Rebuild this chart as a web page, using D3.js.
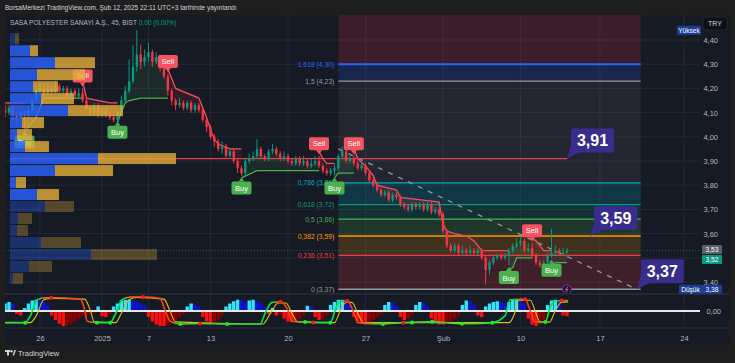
<!DOCTYPE html>
<html><head><meta charset="utf-8">
<script src="https://cdn.jsdelivr.net/npm/d3@7"></script>
<style>
html,body{margin:0;padding:0;background:#1e1e1e;}
svg{display:block;font-family:"Liberation Sans","Noto Sans",sans-serif;}
</style></head><body>
<svg id="c" width="735" height="363"></svg>
<script>
// ---------------- DATA ----------------
const firstOpen = 4.11;
const closes = [4.10,4.12,4.09,4.08,4.10,4.09,4.11,4.15,4.19,4.20,
4.18,4.20,4.19,4.21,4.19,4.20,4.17,4.19,4.17,4.18,
4.15,4.12,4.10,4.13,4.09,4.11,4.09,4.08,4.07,4.10,
4.15,4.19,4.23,4.29,4.34,4.31,4.33,4.35,4.31,4.33,
4.29,4.25,4.19,4.15,4.13,4.14,4.12,4.14,4.11,4.13,
4.11,4.07,4.04,4.00,3.98,3.95,3.96,3.92,3.94,3.90,
3.87,3.85,3.90,3.91,3.92,3.95,3.92,3.91,3.94,3.95,
3.93,3.91,3.92,3.90,3.89,3.91,3.89,3.90,3.88,3.89,
3.90,3.88,3.86,3.85,3.86,3.87,3.92,3.94,3.90,3.91,
3.89,3.87,3.88,3.85,3.82,3.80,3.78,3.76,3.77,3.74,
3.76,3.75,3.72,3.71,3.70,3.72,3.71,3.72,3.70,3.72,
3.69,3.70,3.68,3.61,3.55,3.53,3.55,3.52,3.53,3.52,
3.53,3.52,3.53,3.50,3.45,3.48,3.50,3.51,3.50,3.51,
3.53,3.55,3.56,3.57,3.53,3.54,3.51,3.48,3.47,3.48,
3.51,3.52,3.53,3.52,3.52,3.53];
const highs = [4.13,4.13,4.13,4.10,4.11,4.11,4.13,4.16,4.21,4.22,
4.21,4.22,4.21,4.23,4.22,4.21,4.21,4.20,4.20,4.20,
4.20,4.16,4.13,4.14,4.14,4.12,4.12,4.10,4.09,4.11,
4.17,4.21,4.32,4.38,4.44,4.38,4.36,4.39,4.36,4.35,
4.34,4.30,4.26,4.20,4.16,4.16,4.15,4.15,4.15,4.14,
4.14,4.12,4.08,4.05,4.01,3.99,3.98,3.97,3.95,3.95,
3.91,3.88,3.91,3.93,3.94,3.99,3.96,3.93,3.95,3.97,
3.96,3.94,3.94,3.93,3.91,3.92,3.92,3.92,3.91,3.91,
3.92,3.92,3.89,3.87,3.87,3.89,3.93,3.96,3.95,3.93,
3.92,3.90,3.90,3.89,3.86,3.83,3.81,3.79,3.78,3.78,
3.77,3.77,3.76,3.73,3.72,3.73,3.73,3.73,3.73,3.73,
3.73,3.71,3.71,3.69,3.62,3.56,3.56,3.56,3.55,3.54,
3.55,3.54,3.54,3.54,3.51,3.49,3.51,3.52,3.52,3.52,
3.54,3.56,3.58,3.59,3.58,3.56,3.56,3.52,3.49,3.49,
3.52,3.62,3.55,3.54,3.54,3.54];
const lows = [4.08,4.09,4.07,4.06,4.07,4.03,4.08,4.10,4.14,4.17,
4.16,4.17,4.17,4.18,4.18,4.18,4.16,4.16,4.16,4.16,
4.14,4.11,4.09,4.09,4.08,4.08,4.08,4.07,4.06,4.07,
4.09,4.14,4.18,4.22,4.27,4.28,4.29,4.31,4.29,4.30,
4.27,4.24,4.17,4.13,4.11,4.12,4.11,4.11,4.10,4.10,
4.10,4.06,4.02,3.99,3.96,3.94,3.93,3.91,3.91,3.89,
3.85,3.84,3.84,3.89,3.90,3.91,3.91,3.90,3.90,3.93,
3.92,3.90,3.90,3.89,3.88,3.88,3.88,3.88,3.87,3.87,
3.88,3.87,3.85,3.84,3.84,3.84,3.86,3.91,3.89,3.89,
3.88,3.86,3.86,3.84,3.81,3.79,3.77,3.75,3.75,3.73,
3.73,3.74,3.71,3.70,3.69,3.69,3.70,3.70,3.69,3.69,
3.68,3.68,3.67,3.60,3.54,3.52,3.52,3.51,3.51,3.51,
3.51,3.51,3.51,3.49,3.39,3.43,3.47,3.49,3.49,3.49,
3.47,3.52,3.54,3.55,3.52,3.52,3.50,3.47,3.46,3.46,
3.47,3.50,3.51,3.51,3.51,3.52];

// time axis (bar index where each date starts)
const dateTickBars = [9,25,37,53,73,93,113,133,153.5,175.2];
const dateTickLabels = ["26","2025","7","13","20","27","Şub","10","17","24"];
const priceTicks = [3.40,3.50,3.60,3.70,3.80,3.90,4.00,4.10,4.20,4.30,4.40];

// supertrend segments [bar, price]
const stSegments = [
  {dir:"bear", pts:[[0,4.14],[5,4.14]]},
  {dir:"bull", pts:[[5,4.02],[6,4.04],[8,4.08],[10,4.16],[20,4.16]]},
  {dir:"bear", pts:[[20,4.23],[21,4.16],[27,4.14],[29,4.14]]},
  {dir:"bull", pts:[[29,4.06],[30,4.10],[31,4.14],[32,4.15],[35,4.16],[42,4.16]]},
  {dir:"bear", pts:[[42,4.28],[43,4.24],[44,4.20],[50,4.16],[51,4.12],[52,4.08],[53,4.03],[54,3.99],[55,3.97],[58,3.95],[61,3.95]]},
  {dir:"bull", pts:[[61,3.83],[65,3.86],[81,3.86]]},
  {dir:"bear", pts:[[81,3.94],[82,3.91],[83,3.89],[85,3.89]]},
  {dir:"bull", pts:[[85,3.83],[86,3.85],[90,3.85]]},
  {dir:"bear", pts:[[90,3.95],[91,3.91],[93,3.88],[95,3.84],[96,3.80],[101,3.78],[102,3.75],[112,3.73],[113,3.64],[114,3.61],[116,3.60],[119,3.59],[121,3.57],[123,3.53],[130,3.53]]},
  {dir:"bull", pts:[[130,3.45],[131,3.46],[132,3.50],[136,3.50]]},
  {dir:"bear", pts:[[136,3.58],[137,3.57],[139,3.53],[141,3.53]]},
  {dir:"bull", pts:[[141,3.47],[142,3.48],[145,3.48]]}
];
const signalBars  = [5,20,29,42,61,81,85,90,130,136,141];
const signalTypes = ["Buy","Sell","Buy","Sell","Buy","Sell","Buy","Sell","Buy","Sell","Buy"];

// volume profile (top row -> bottom row)
const vpHigh = 4.43, vpLow = 3.39, vaHigh = 4.38, vaLow = 3.74;
const vpUp   = [5,20,45,27,23,31,58,12,7,15,88,45,6,27,35,8,7,31,81,19,3];
const vpDown = [4,8,40,48,25,33,55,22,15,24,78,58,10,22,29,14,11,40,66,23,10];
const pocPrice = 3.91;

// fibonacci
const fibStartBar = 86, fibEndBar = 164;
const fibLevels = [1.618,1.5,0.786,0.618,0.5,0.382,0.236,0];
const fibPrices = [4.30,4.23,3.81,3.72,3.66,3.59,3.51,3.37];
const trendLine = [[86,3.95],[163,3.37]];

// callouts [bar, price]
const calloutBars = [145,151,163];
const calloutPrices = [3.91,3.59,3.37];

const sessionHigh = 4.44, sessionLow = 3.38, bidPrice = 3.52;

// momentum histogram
const hist = [0.5,0.6,0.45,-0.2,-0.3,0.2,0.5,0.7,0.75,0.7,
0.6,0.4,-0.3,-0.6,-0.85,-1.0,-0.95,-0.85,-0.7,-0.5,
-0.35,-0.25,-0.2,-0.15,0.3,-0.35,-0.4,-0.2,0.3,0.5,
0.7,0.75,0.75,0.7,0.6,0.5,0.35,-0.4,-0.7,-0.9,
-1.0,-1.0,-0.95,-0.8,-0.6,-0.4,-0.2,0.3,0.5,0.45,
0.3,-0.4,-0.7,-0.8,-0.75,-0.6,-0.3,0.3,0.5,0.65,
0.75,0.7,0.6,0.7,0.75,0.65,0.5,0.3,-0.2,0.2,
-0.3,-0.25,-0.5,-0.7,-0.75,-0.65,-0.5,-0.3,0.35,0.3,
-0.4,-0.6,-0.55,-0.3,0.4,0.6,0.75,0.75,0.6,0.4,
-0.4,-0.7,-0.85,-0.9,-0.8,-0.6,-0.4,-0.2,0.4,0.6,
0.55,0.35,-0.4,-0.6,-0.5,-0.3,0.4,0.6,0.55,0.3,
-0.5,-0.8,-0.9,-0.9,-0.85,-0.7,-0.5,-0.3,0.4,0.7,
0.65,0.4,-0.3,-0.4,0.3,0.5,0.6,0.65,0.6,0.55,
0.6,0.75,0.8,0.75,0.5,-0.5,-0.9,-1.0,-0.9,-0.6,
0.4,0.7,0.75,0.6,-0.3,-0.35];
const oscMain = [[0,0.05],[5.2,0.05],[6.5,0.3],[8.3,0.9],[10.3,0.97],[11.9,0.97],[19.4,0.92],[20.4,0.6],[21.2,0.1],[23.7,0.05],
[27.1,0.05],[28.6,0.4],[30.2,0.9],[32.3,1.0],[35.6,1.0],[40,0.95],[41.3,0.5],[42.6,0.1],[45.2,0.0],[50.3,0.02],
[57.3,0.0],[65.8,0.0],[67.1,0.4],[68.9,0.8],[71,0.82],[73,0.5],[74,0.1],[77.4,0.07],[83.9,0.05],[85.4,0.6],
[86.5,0.85],[88.3,0.85],[90.3,0.3],[91,0.05],[97.5,0.0],[102.7,0.05],[110.2,0.08],[117.9,0.01],[122.6,0.02],[125.7,0.05],
[129,0.3],[130.3,0.9],[134.2,0.92],[135.5,0.5],[136.8,0.08],[139.4,0.07],[140.6,0.6],[142,0.85],[145.3,0.87]];
const oscSignal = [[0,0.05],[6.5,0.05],[8,0.3],[10,0.9],[12,0.95],[20.5,0.92],[22,0.5],[23,0.08],[28.5,0.05],[30,0.4],
[32,0.9],[34,0.98],[41,0.92],[42.5,0.5],[44,0.08],[66.5,0.0],[68.5,0.4],[70.5,0.78],[72.5,0.78],[74,0.4],
[75.5,0.08],[85,0.05],[86.5,0.5],[88,0.8],[89.5,0.8],[91,0.4],[92.5,0.05],[130,0.05],[131.5,0.4],[132.5,0.88],
[135.5,0.88],[137,0.4],[138,0.08],[140.5,0.07],[142,0.5],[143.5,0.8],[145.3,0.82]];
const oscDotsRed = [[11.9,0.97],[35.6,1.0],[71,0.82],[88.3,0.85],[134.2,0.92],[143.6,0.87],[50.3,0.02],[79.5,0.06],[102.7,0.05]];
const oscDotsGreen = [[5.2,0.05],[23.7,0.05],[27.1,0.05],[45.2,0.0],[57.3,0.0],[77.4,0.07],[83.9,0.05],[97.5,0.0],[105,0.06],[110.2,0.08],[117.9,0.01],[125.7,0.05],[139.4,0.07]];

// ---------------- RENDER ----------------
const W=735,H=363;
const PL=5, PR=700, PT=15, PB=293;
const IT=295, IB=327;
const fmt = v => d3.format(".2f")(v).replace(".",",");
const svg = d3.select("#c");
svg.append("rect").attr("width",W).attr("height",H).attr("fill","#1e1e1e");
svg.append("rect").attr("x",5).attr("y",15).attr("width",724).attr("height",330).attr("fill","#161a25");

const x = d3.scaleLinear().domain([0,145]).range([5.1,567]);
const y = d3.scaleLinear().domain([3.40,4.40]).range([282,40]);
const yH = d3.scaleLinear().domain([-1,1]).range([326,296]);
const yO = d3.scaleLinear().domain([0,1]).range([324,297]);

const defs = svg.append("defs");
defs.append("clipPath").attr("id","pc").append("rect").attr("x",PL).attr("y",PT).attr("width",PR-PL).attr("height",PB-PT);
defs.append("clipPath").attr("id","ic").append("rect").attr("x",PL).attr("y",IT).attr("width",PR-PL).attr("height",IB-IT);

// grid
const grid = svg.append("g");
grid.selectAll("line.h").data(priceTicks).join("line")
  .attr("x1",PL).attr("x2",PR).attr("y1",d=>y(d)).attr("y2",d=>y(d))
  .attr("stroke","#242836").attr("stroke-width",1);
grid.selectAll("line.v").data(dateTickBars).join("line")
  .attr("x1",d=>x(d)).attr("x2",d=>x(d)).attr("y1",PT).attr("y2",IB)
  .attr("stroke","#242836").attr("stroke-width",1);

const pane = svg.append("g").attr("clip-path","url(#pc)");

// fib zones
const fibLineColors = ["#2962ff","#9598a1","#00acc1","#089981","#4caf50","#ff9800","#f23645","#9598a1"];
const fibFillColors = ["#2962ff","#787b86","#00bcd4","#089981","#4caf50","#ff9800","#f23645"];
const fx0 = x(fibStartBar), fx1 = x(fibEndBar);
pane.append("rect").attr("x",fx0).attr("width",fx1-fx0).attr("y",PT).attr("height",y(fibPrices[0])-PT)
  .attr("fill","#f23645").attr("opacity",0.17);
for(let k=0;k<fibPrices.length-1;k++){
  pane.append("rect").attr("x",fx0).attr("width",fx1-fx0)
    .attr("y",y(fibPrices[k])).attr("height",y(fibPrices[k+1])-y(fibPrices[k]))
    .attr("fill",fibFillColors[k]).attr("opacity",k===1?0.13:0.18);
}
fibPrices.forEach((p,k)=>{
  pane.append("line").attr("x1",fx0).attr("x2",fx1).attr("y1",y(p)).attr("y2",y(p))
    .attr("stroke",fibLineColors[k]).attr("stroke-width",k===0?2:1.3);
  pane.append("text").attr("x",fx0-4).attr("y",y(p)+2.5).attr("text-anchor","end")
    .attr("font-size",6.8).attr("fill",fibLineColors[k])
    .text(String(fibLevels[k]).replace(".",",")+" ("+fmt(p)+")");
});

// trend dashed line
pane.append("line").attr("x1",x(trendLine[0][0])).attr("y1",y(trendLine[0][1]))
  .attr("x2",x(trendLine[1][0])).attr("y2",y(trendLine[1][1]))
  .attr("stroke","#9598a1").attr("stroke-width",1.3).attr("stroke-dasharray","5,6");

// POC line
pane.append("line").attr("x1",10).attr("x2",x(145)).attr("y1",y(pocPrice)).attr("y2",y(pocPrice))
  .attr("stroke","#e0414f").attr("stroke-width",1.2);

// last price dotted
const lastClose = closes[closes.length-1];
pane.append("line").attr("x1",PL).attr("x2",PR).attr("y1",y(lastClose)).attr("y2",y(lastClose))
  .attr("stroke","#089981").attr("stroke-width",1).attr("stroke-dasharray","1,2").attr("opacity",0.6);

// bars
const bars = closes.map((c,i)=>({i, o: i===0?firstOpen:closes[i-1], c, h:highs[i], l:lows[i]}));

// supertrend fill + lines
stSegments.forEach(seg=>{
  const sb = seg.pts.map(p=>p[0]), sv = seg.pts.map(p=>p[1]);
  const interp = d3.scaleLinear().domain(sb).range(sv).clamp(true);
  const segBars = bars.filter(b=>b.i>=sb[0] && b.i<=sb[sb.length-1]);
  const col = seg.dir==="bear" ? "#f23645" : "#4caf50";
  pane.append("path").datum(segBars)
    .attr("d", d3.area().x(b=>x(b.i)).y0(b=>y(interp(b.i))).y1(b=>y((b.o+b.c)/2)))
    .attr("fill",col).attr("opacity",0.12);
  pane.append("path").datum(seg.pts)
    .attr("d", d3.line().x(p=>x(p[0])).y(p=>y(p[1])))
    .attr("fill","none").attr("stroke",seg.dir==="bear"?"#f0505d":"#4caf50").attr("stroke-width",1.3);
});

// candles
const cg = pane.append("g");
cg.selectAll("line").data(bars).join("line")
  .attr("x1",b=>x(b.i)).attr("x2",b=>x(b.i)).attr("y1",b=>y(b.h)).attr("y2",b=>y(b.l))
  .attr("stroke",b=>b.c>=b.o?"#089981":"#f23645").attr("stroke-width",1);
cg.selectAll("rect").data(bars).join("rect")
  .attr("x",b=>x(b.i)-1.2).attr("width",2.4)
  .attr("y",b=>y(Math.max(b.o,b.c))).attr("height",b=>Math.max(1,Math.abs(y(b.o)-y(b.c))))
  .attr("fill",b=>b.c>=b.o?"#089981":"#f23645");

// buy/sell labels
signalBars.forEach((bi,k)=>{
  const t = signalTypes[k];
  const bx = x(bi);
  const g = pane.append("g");
  if(t==="Sell"){
    const yy = y(highs[bi]) - 2;
    g.append("path").attr("d",`M${bx-3},${yy-4}L${bx},${yy}L${bx+3},${yy-4}Z`).attr("fill","#f7525f");
    g.append("rect").attr("x",bx-10).attr("y",yy-17).attr("width",20).attr("height",13).attr("rx",2).attr("fill","#f7525f");
    g.append("text").attr("x",bx).attr("y",yy-8).attr("text-anchor","middle").attr("font-size",7.5).attr("fill","#fff").text("Sell");
  } else {
    const yy = y(lows[bi]) + 2;
    g.append("path").attr("d",`M${bx-3},${yy+4}L${bx},${yy}L${bx+3},${yy+4}Z`).attr("fill","#4caf50");
    g.append("rect").attr("x",bx-10).attr("y",yy+4).attr("width",20).attr("height",13).attr("rx",2).attr("fill","#4caf50");
    g.append("text").attr("x",bx).attr("y",yy+13.5).attr("text-anchor","middle").attr("font-size",7.5).attr("fill","#fff").text("Buy");
  }
});

// volume profile
const rowH = (vpHigh-vpLow)/vpUp.length;
const vx = d3.scaleLinear().domain([0, d3.max(vpUp.map((u,k)=>u+vpDown[k]))]).range([0,166]);
const vg = pane.append("g");
vpUp.forEach((u,k)=>{
  const top = vpHigh - k*rowH, bot = top - rowH, mid = top - rowH/2;
  const inVA = mid<=vaHigh && mid>=vaLow;
  const yt = y(top)+0.5, hh = y(bot)-y(top)-1;
  vg.append("rect").attr("x",10).attr("y",yt).attr("width",vx(u)).attr("height",hh)
    .attr("fill","#2962ff").attr("opacity",inVA?0.82:0.32);
  vg.append("rect").attr("x",10+vx(u)).attr("y",yt).attr("width",vx(vpDown[k])).attr("height",hh)
    .attr("fill","#e5ae3a").attr("opacity",inVA?0.8:0.3);
});

// purple circle icon
pane.append("circle").attr("cx",x(145)).attr("cy",y(3.37)).attr("r",4.5).attr("fill","#161a25").attr("stroke","#9c27b0").attr("stroke-width",1);
pane.append("path").attr("d",`M${x(145)+1},${y(3.37)-3}L${x(145)-1.5},${y(3.37)+0.5}L${x(145)+1},${y(3.37)}L${x(145)-1},${y(3.37)+3}`)
  .attr("fill","none").attr("stroke","#ba68c8").attr("stroke-width",0.9);

// callouts
calloutBars.forEach((b,k)=>{
  const ax = x(b), ay = y(calloutPrices[k]);
  const bx = ax+4, by = ay-30, w=43, h=24;
  svg.append("path").attr("d",`M${bx},${by+h-7}L${bx+8},${by+h}L${ax},${ay}Z`).attr("fill","#3a2c8c");
  svg.append("rect").attr("x",bx).attr("y",by).attr("width",w).attr("height",h).attr("rx",2).attr("fill","#3a2c8c");
  svg.append("text").attr("x",bx+w/2).attr("y",by+17.5).attr("text-anchor","middle")
    .attr("font-size",16).attr("font-weight","bold").attr("fill","#ffffff").text(fmt(calloutPrices[k]));
});

// separators
svg.append("line").attr("x1",PL).attr("x2",729).attr("y1",294).attr("y2",294).attr("stroke","#2a2e39").attr("stroke-width",1.5);
svg.append("line").attr("x1",PL).attr("x2",729).attr("y1",328).attr("y2",328).attr("stroke","#2a2e39").attr("stroke-width",1);

// indicator pane
const ig = svg.append("g").attr("clip-path","url(#ic)");
ig.selectAll("rect").data(hist).join("rect")
  .attr("x",(v,i)=>x(i)-1.7).attr("width",3.4)
  .attr("y",v=>Math.min(yH(v),yH(0))).attr("height",v=>Math.abs(yH(v)-yH(0)))
  .attr("fill",(v,i)=>{
    const p = i>0?hist[i-1]:v;
    if(v>=0) return v>=p ? "#2ee6ff" : "#0a14d9";
    return v<=p ? "#ff1010" : "#8a0000";
  });
ig.append("line").attr("x1",PL).attr("x2",PR).attr("y1",yH(0)).attr("y2",yH(0)).attr("stroke","#e8e8e8").attr("stroke-width",2);
const gx1 = x(0), gx2 = x(145.3);
const grad = defs.append("linearGradient").attr("id","og").attr("gradientUnits","userSpaceOnUse")
  .attr("x1",gx1).attr("x2",gx2).attr("y1",0).attr("y2",0);
oscMain.forEach((p,k)=>{
  const prev = oscMain[Math.max(0,k-1)][1], next = oscMain[Math.min(oscMain.length-1,k+1)][1];
  const d = next-prev;
  let c = d>0.15 ? "#00e640" : d<-0.15 ? "#ff3b1f" : (p[1]>0.5 ? "#ff5a1f" : "#3fd43a");
  grad.append("stop").attr("offset",(x(p[0])-gx1)/(gx2-gx1)).attr("stop-color",c);
});
ig.append("path").datum(oscSignal).attr("d",d3.line().x(p=>x(p[0])).y(p=>yO(p[1])).curve(d3.curveMonotoneX))
  .attr("fill","none").attr("stroke","#d4c414").attr("stroke-width",1.1);
ig.append("path").datum(oscMain).attr("d",d3.line().x(p=>x(p[0])).y(p=>yO(p[1])).curve(d3.curveMonotoneX))
  .attr("fill","none").attr("stroke","url(#og)").attr("stroke-width",1.6);
ig.selectAll("circle.r").data(oscDotsRed).join("circle").attr("cx",p=>x(p[0])).attr("cy",p=>yO(p[1])).attr("r",2).attr("fill","#ff1a1a");
ig.selectAll("circle.g").data(oscDotsGreen).join("circle").attr("cx",p=>x(p[0])).attr("cy",p=>yO(p[1])).attr("r",2).attr("fill","#22e822");

// price axis (labels hidden where the last-price tags cover them)
const lastClose2 = lastClose;
const pa = svg.append("g").attr("transform","translate(721,0)")
  .call(d3.axisLeft(y).tickValues(priceTicks).tickFormat(fmt).tickSize(0));
pa.select(".domain").remove();
pa.selectAll("text").attr("font-size",7.5).attr("fill","#b2b5be").attr("font-family","Liberation Sans, sans-serif").attr("dx",0).attr("text-anchor","end")
  .attr("display",d=>(y(d)>y(lastClose2)-6 && y(d)<y(lastClose2)+15)?"none":null);
svg.append("text").attr("x",721).attr("y",yH(0)+2.5).attr("text-anchor","end").attr("font-size",7.5).attr("fill","#b2b5be").text(fmt(0));

// time axis
const ta = svg.append("g").attr("transform","translate(0,333)")
  .call(d3.axisBottom(x).tickValues(dateTickBars).tickFormat((d,i)=>dateTickLabels[i]).tickSize(0));
ta.select(".domain").remove();
ta.selectAll("text").attr("font-size",7.5).attr("fill","#b2b5be").attr("font-family","Liberation Sans, sans-serif");

// right price labels
function tag(x0,yc,w,txt,bg,fg){
  svg.append("rect").attr("x",x0).attr("y",yc-4.5).attr("width",w).attr("height",9).attr("rx",1).attr("fill",bg);
  svg.append("text").attr("x",x0+w/2).attr("y",yc+2.5).attr("text-anchor","middle").attr("font-size",6.6).attr("fill",fg).text(txt);
}
tag(677,y(sessionHigh),24,"Yüksek","#1c3f94","#ffffff");
tag(702,y(lastClose)-1,20,fmt(lastClose),"#5d606b","#ffffff");
tag(702,y(lastClose)+9,20,fmt(bidPrice),"#089981","#ffffff");
tag(679,y(sessionLow)+2.5,23,"Düşük","#1c3f94","#ffffff");
tag(702,y(sessionLow)+2.5,20,fmt(sessionLow),"#1c3f94","#ffffff");
svg.append("rect").attr("x",703).attr("y",17).attr("width",24).attr("height",13).attr("rx",2).attr("fill","#0e1018").attr("stroke","#2a2e39").attr("stroke-width",0.8);
svg.append("text").attr("x",715).attr("y",26).attr("text-anchor","middle").attr("font-size",7).attr("fill","#d1d4dc").text("TRY");

// header texts
svg.append("text").attr("x",5).attr("y",10).attr("font-size",6.5).attr("fill","#d1d4dc")
  .text("BorsaMerkezi TradingView.com, Şub 12, 2025 22:11 UTC+3 tarihinde yayınlandı");
const tt = svg.append("text").attr("x",10).attr("y",25).attr("font-size",6.6);
tt.append("tspan").attr("fill","#b2b5be").text("SASA POLYESTER SANAYİ A.Ş., 45, BIST  ");
tt.append("tspan").attr("fill","#089981").text(fmt(closes[145]-lastClose)+" (0,00%)");

// footer logo
const lg = svg.append("g").attr("fill","#d1d4dc");
lg.append("rect").attr("x",5).attr("y",350).attr("width",5).attr("height",2);
lg.append("rect").attr("x",7).attr("y",350).attr("width",2).attr("height",5.5);
lg.append("circle").attr("cx",11.5).attr("cy",351.2).attr("r",1.2);
lg.append("path").attr("d","M12.5,355.5L14.5,350L16,350L14,355.5Z");
svg.append("text").attr("x",18).attr("y",355.5).attr("font-size",7.5).attr("fill","#d1d4dc").text("TradingView");
</script>
</body></html>
